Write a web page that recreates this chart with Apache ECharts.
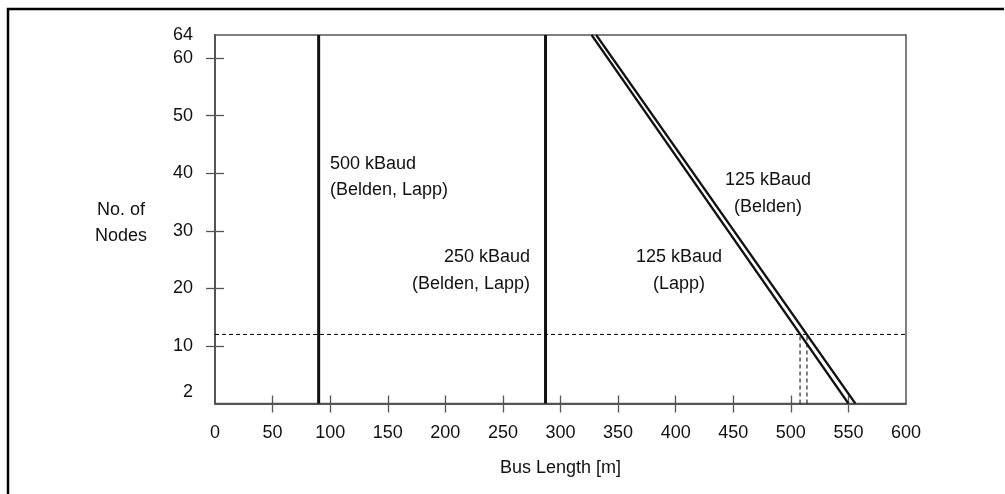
<!DOCTYPE html>
<html>
<head>
<meta charset="utf-8">
<script src="https://cdn.jsdelivr.net/npm/echarts@6/dist/echarts.min.js"></script>
<style>
html,body{margin:0;padding:0;background:#fff;}
#chart{width:1005px;height:494px;}
</style>
</head>
<body>
<div id="chart"></div>
<script>
// ---- data ----
const xTickLabels = [0, 50, 100, 150, 200, 250, 300, 350, 400, 450, 500, 550, 600];
const yTickLabels = [2, 10, 20, 30, 40, 50, 60, 64];
const yTickMarks = [10, 20, 30, 40, 50, 60];

// bus length limits [m] vs number of nodes
const baud500 = [[90, 0], [90, 64]];
const baud250 = [[287, 0], [287, 64]];
const baud125Lapp = [[327, 64], [550, 0]];
const baud125Belden = [[331, 64], [556, 0]];

// reference marking at 12 nodes
const nodeRef = [[0, 12], [600, 12]];
const lappAt12 = [[508, 0], [508, 12]];
const beldenAt12 = [[514, 0], [514, 12]];

const font = 'Liberation Sans, Arial, Helvetica, sans-serif';
const txt = '#111';
const fs = 18;

const chart = echarts.init(document.getElementById('chart'), null, {renderer: 'canvas'});

const solid = (data, w) => ({
  type: 'line', data: data, symbol: 'none', silent: true,
  lineStyle: {color: '#111', width: w}, z: 3, animation: false
});
const dashed = (data) => ({
  type: 'line', data: data, symbol: 'none', silent: true,
  lineStyle: {color: '#000', width: 1, type: [4, 3]}, z: 2, animation: false
});

const option = {
  animation: false,
  backgroundColor: '#fff',
  grid: {left: 215, top: 35, width: 691, height: 368.5, show: true,
         borderColor: '#555', borderWidth: 1.5, backgroundColor: 'transparent'},
  xAxis: [{
    type: 'value', min: 0, max: 600,
    axisLine: {show: true, lineStyle: {color: '#555', width: 2}},
    axisTick: {show: true, inside: false, length: 9, lineStyle: {color: '#555', width: 1.3},
               customValues: xTickLabels.slice(1, -1)},
    axisLabel: {customValues: xTickLabels, color: txt, fontSize: fs, fontFamily: font, margin: 21},
    splitLine: {show: false},
    name: 'Bus Length [m]', nameLocation: 'middle', nameGap: 56,
    nameTextStyle: {color: txt, fontSize: fs, fontFamily: font}
  }, {
    type: 'value', min: 0, max: 600, position: 'bottom',
    axisLine: {show: false},
    axisTick: {show: true, inside: true, length: 8, lineStyle: {color: '#555', width: 1.3},
               customValues: xTickLabels.slice(1, -1)},
    axisLabel: {show: false}, splitLine: {show: false}
  }],
  yAxis: [{
    type: 'value', min: 0, max: 64,
    axisLine: {show: true, lineStyle: {color: '#555', width: 2}},
    axisTick: {show: true, inside: false, length: 9, lineStyle: {color: '#555', width: 1.3},
               customValues: yTickMarks},
    axisLabel: {customValues: yTickLabels, color: txt, fontSize: fs, fontFamily: font, margin: 22},
    splitLine: {show: false}
  }, {
    type: 'value', min: 0, max: 64, position: 'left',
    axisLine: {show: false},
    axisTick: {show: true, inside: true, length: 9, lineStyle: {color: '#555', width: 1.3},
               customValues: yTickMarks},
    axisLabel: {show: false}, splitLine: {show: false}
  }],
  series: [
    solid(baud500, 3),
    solid(baud250, 3),
    solid(baud125Lapp, 2.2),
    solid(baud125Belden, 2.2),
    dashed(nodeRef),
    dashed(lappAt12),
    dashed(beldenAt12)
  ],
  graphic: [
    {type: 'line', shape: {x1: 7, y1: 9, x2: 1004, y2: 9}, style: {stroke: '#000', lineWidth: 2.5}},
    {type: 'line', shape: {x1: 8, y1: 8, x2: 8, y2: 494}, style: {stroke: '#000', lineWidth: 2.5}},
    {type: 'text', x: 121, y: 223, style: {text: 'No. of\nNodes', font: fs + 'px ' + font, fill: txt,
      textAlign: 'center', textVerticalAlign: 'middle', lineHeight: 26}},
    {type: 'text', x: 330, y: 177, style: {text: '500 kBaud\n(Belden, Lapp)', font: fs + 'px ' + font, fill: txt,
      textAlign: 'left', textVerticalAlign: 'middle', lineHeight: 26}},
    {type: 'text', x: 530, y: 271, style: {text: '250 kBaud\n(Belden, Lapp)', font: fs + 'px ' + font, fill: txt,
      textAlign: 'right', textVerticalAlign: 'middle', lineHeight: 27}},
    {type: 'text', x: 768, y: 194, style: {text: '125 kBaud\n(Belden)', font: fs + 'px ' + font, fill: txt,
      textAlign: 'center', textVerticalAlign: 'middle', lineHeight: 27}},
    {type: 'text', x: 679, y: 271, style: {text: '125 kBaud\n(Lapp)', font: fs + 'px ' + font, fill: txt,
      textAlign: 'center', textVerticalAlign: 'middle', lineHeight: 27}}
  ]
};
chart.setOption(option);
</script>
</body>
</html>
